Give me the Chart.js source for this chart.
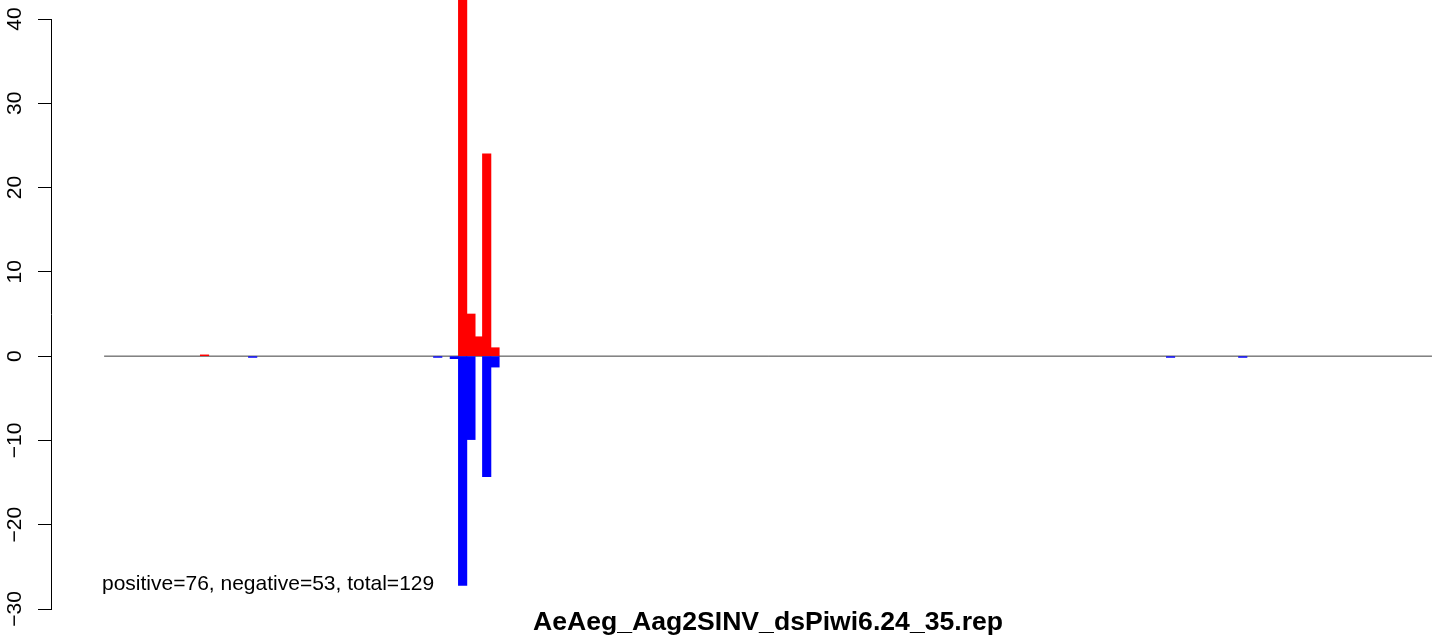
<html>
  <head>
    <script src="https://cdn.jsdelivr.net/npm/chart.js@4.4.0/dist/chart.umd.min.js"></script>
    <style>
      body { margin: 0; background: #fff; }
    </style>
  </head>
  <body>
    <canvas id="myChart" width="1444" height="637"></canvas>

    <script>
      // read positions (arbitrary units along the reference, 0..1600)
      const posPositions = [121, 432, 442, 451, 461, 471];
      const posCounts = [0.15, 43.7, 5.0, 2.3, 24.0, 1.0];
      const negPositions = [179, 402, 422, 432, 442, 461, 471, 1285, 1372];
      const negCounts = [-0.15, -0.15, -0.3, -27.2, -9.9, -14.3, -1.3, -0.15, -0.15];
      const zeroLineX = [0, 1600];
      const yTicks = [-30, -20, -10, 0, 10, 20, 30, 40];
      const summary = "positive=76, negative=53, total=129";
      const mainTitle = "AeAeg_Aag2SINV_dsPiwi6.24_35.rep";

      const FONT = '"Liberation Sans", Arial, Helvetica, sans-serif';

      const textPlugin = {
        id: "rtext",
        afterDraw(chart) {
          const ctx = chart.ctx;
          const y = chart.scales.y;
          ctx.save();
          ctx.fillStyle = "#000";
          ctx.font = "21px " + FONT;
          ctx.textAlign = "center";
          ctx.textBaseline = "alphabetic";
          yTicks.forEach((v) => {
            const py = y.getPixelForValue(v);
            ctx.save();
            ctx.translate(21, py);
            ctx.rotate(-Math.PI / 2);
            ctx.fillText(v < 0 ? "\u2212" + Math.abs(v) : String(v), 0, 0);
            ctx.restore();
          });
          ctx.textAlign = "left";
          ctx.fillText(summary, 102, 590);
          // title sits under the plot, centred on the plot region
          ctx.font = "bold 26.6px " + FONT;
          ctx.textAlign = "center";
          ctx.fillText(mainTitle, 768, 630);
          ctx.restore();
        },
      };

      const data = {
        datasets: [
          {
            type: "line",
            data: zeroLineX.map((x) => ({ x: x, y: 0 })),
            borderColor: "#3c3c3c",
            borderWidth: 1,
            pointRadius: 0,
            order: 3,
          },
          {
            type: "bar",
            data: negPositions.map((x, i) => ({ x: x, y: negCounts[i] })),
            backgroundColor: "#0000ff",
            barThickness: 8.5,
            grouped: false,
            order: 2,
          },
          {
            type: "bar",
            data: posPositions.map((x, i) => ({ x: x, y: posCounts[i] })),
            backgroundColor: "#ff0000",
            barThickness: 8.5,
            grouped: false,
            clip: false,
            order: 1,
          },
        ],
      };

      const config = {
        type: "bar",
        data: data,
        plugins: [textPlugin],
        options: {
          responsive: false,
          animation: false,
          layout: { padding: { left: 0, right: 0, top: 19, bottom: 28 } },
          scales: {
            x: {
              type: "linear",
              display: false,
              offset: false,
              min: -64,
              max: 1614.5,
            },
            y: {
              type: "linear",
              min: -30,
              max: 40,
              ticks: { display: false, stepSize: 10 },
              grid: {
                drawOnChartArea: false,
                drawTicks: true,
                tickLength: 13,
                color: "#000",
                lineWidth: 1,
              },
              border: { display: true, color: "#000", width: 1 },
              afterFit(scale) {
                scale.width = 51;
              },
            },
          },
          plugins: {
            legend: { display: false },
            tooltip: { enabled: false },
          },
        },
      };

      const myChart = new Chart(document.getElementById("myChart"), config);
    </script>
  </body>
</html>
